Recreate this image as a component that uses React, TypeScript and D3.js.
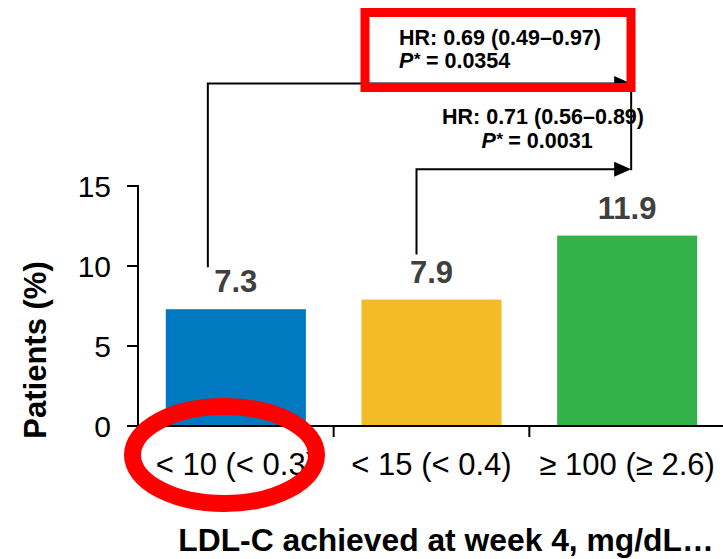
import React from "react";
import * as d3 from "d3";

// Event rates by LDL-C level achieved at week 4
const categories = ["< 10 (< 0.3)", "< 15 (< 0.4)", "≥ 100 (≥ 2.6)"];
const values = [7.3, 7.9, 11.9];
const barColors = ["#0079C1", "#F3BC27", "#33B24A"];
const yTicks = [0, 5, 10, 15];

// Hazard-ratio comparisons against the highest LDL-C group
const comparisons = [
  { from: 0, to: 2, hr: "HR: 0.69 (0.49–0.97)", p: "0.0354" },
  { from: 1, to: 2, hr: "HR: 0.71 (0.56–0.89)", p: "0.0031" },
];

const xTitle = "LDL-C achieved at week 4, mg/dL…";
const yTitle = "Patients (%)";

const W = 723;
const H = 559;
const FONT = "Arial, 'Liberation Sans', Helvetica, sans-serif";

export default function App() {
  const x = d3
    .scaleBand<string>()
    .domain(categories)
    .range([138, 725])
    .paddingInner(0.284)
    .paddingOuter(0.142);
  const y = d3.scaleLinear().domain([0, 15]).range([426, 186]);

  const step = x.step();
  const cx = (i: number) => (x(categories[i]) as number) + x.bandwidth() / 2;
  const boundaries = categories.slice(1).map((c) => (x(c) as number) - (step - x.bandwidth()) / 2);

  // bracket geometry
  const rightX = cx(2) + 4;
  const levels = [y(21.4), y(16.05)];
  const startX = [cx(0) - 28, cx(1) - 15];
  const startY = [y(values[0]) - 42, y(values[1]) - 45];
  const arrow = (tipX: number, yy: number) =>
    `M${tipX},${yy} L${tipX - 17},${yy - 7.5} L${tipX - 17},${yy + 7.5} Z`;

  return (
    <svg
      width={W}
      height={H}
      style={{ position: "absolute", left: 0, top: 0, background: "#fff" }}
      fontFamily={FONT}
    >
      {/* bars */}
      {values.map((v, i) => (
        <rect
          key={categories[i]}
          x={x(categories[i])}
          y={y(v)}
          width={x.bandwidth()}
          height={y(0) - y(v)}
          fill={barColors[i]}
        />
      ))}

      {/* value labels */}
      {values.map((v, i) => (
        <text
          key={"v" + i}
          x={cx(i)}
          y={y(v) - 17}
          textAnchor="middle"
          fontSize={31}
          fontWeight="bold"
          fill="#404040"
        >
          {v.toFixed(1)}
        </text>
      ))}

      {/* y axis */}
      <line x1={138} x2={138} y1={y(15) - 1} y2={y(0)} stroke="#000" strokeWidth={2} />
      {yTicks.map((t) => (
        <g key={t}>
          <line x1={127} x2={138} y1={y(t)} y2={y(t)} stroke="#000" strokeWidth={2} />
          <text x={111} y={y(t)} dy="0.36em" textAnchor="end" fontSize={30} fill="#000">
            {t}
          </text>
        </g>
      ))}

      {/* x axis */}
      <line x1={137} x2={W} y1={y(0)} y2={y(0)} stroke="#000" strokeWidth={2} />
      {boundaries.map((b, i) => (
        <line key={i} x1={b} x2={b} y1={y(0)} y2={y(0) + 11} stroke="#000" strokeWidth={2} />
      ))}
      {categories.map((c, i) => (
        <text key={c} x={cx(i)} y={475} textAnchor="middle" fontSize={31} fill="#000">
          {c}
        </text>
      ))}

      {/* axis titles */}
      <text
        transform={`translate(46, ${350}) rotate(-90)`}
        textAnchor="middle"
        fontSize={31}
        fontWeight="bold"
        fill="#000"
      >
        {yTitle}
      </text>
      <text x={446} y={551} textAnchor="middle" fontSize={31.8} fontWeight="bold" fill="#000">
        {xTitle}
      </text>

      {/* comparison brackets */}
      {comparisons.map((c, k) => (
        <g key={"b" + k}>
          <path
            d={`M${startX[k]},${startY[k]} V${levels[k]} H${rightX - 15}`}
            fill="none"
            stroke="#000"
            strokeWidth={2}
          />
          <path d={arrow(rightX, levels[k])} fill="#000" />
        </g>
      ))}
      <line x1={rightX} x2={rightX} y1={levels[0] - 1} y2={levels[1] + 1} stroke="#000" strokeWidth={2} />

      {/* comparison labels */}
      <text x={399} y={45} fontSize={21.5} fontWeight="bold" fill="#000">
        {comparisons[0].hr}
      </text>
      <text x={399} y={68} fontSize={21.5} fontWeight="bold" fill="#000">
        <tspan fontStyle="italic">P</tspan>
        <tspan fontStyle="italic" fontSize={17} dy={-3}>*</tspan>
        <tspan dy={3}>{` = ${comparisons[0].p}`}</tspan>
      </text>
      <text x={543} y={124} textAnchor="middle" fontSize={21.5} fontWeight="bold" fill="#000">
        {comparisons[1].hr}
      </text>
      <text x={537} y={148} textAnchor="middle" fontSize={21.5} fontWeight="bold" fill="#000">
        <tspan fontStyle="italic">P</tspan>
        <tspan fontStyle="italic" fontSize={17} dy={-3}>*</tspan>
        <tspan dy={3}>{` = ${comparisons[1].p}`}</tspan>
      </text>

      {/* highlight marks */}
      <rect x={365} y={12.5} width={266} height={75} fill="none" stroke="#FF0000" strokeWidth={9} />
      <ellipse cx={224.5} cy={455} rx={92} ry={48.5} fill="none" stroke="#FF0000" strokeWidth={17} />
    </svg>
  );
}
